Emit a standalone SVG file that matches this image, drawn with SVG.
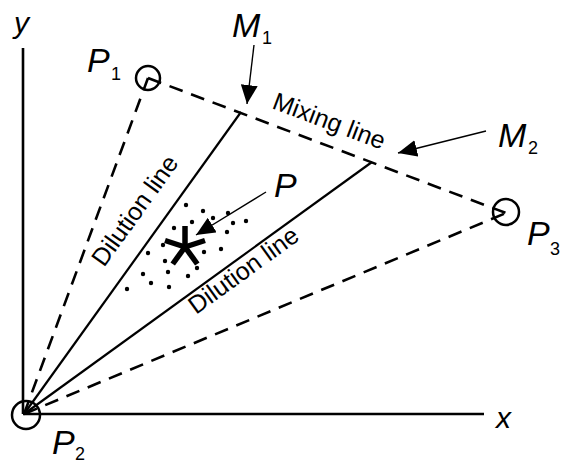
<svg xmlns="http://www.w3.org/2000/svg" width="561" height="464" viewBox="0 0 561 464">
<style>
.ax{stroke:#000;stroke-width:2.6;fill:none}
.sol{stroke:#000;stroke-width:2.2;fill:none}
.dash{stroke:#000;stroke-width:2.6;fill:none;stroke-dasharray:14 9}
.pt{stroke:#000;stroke-width:2.5;fill:none}
.arr{stroke:#000;stroke-width:1.4;fill:none;marker-end:url(#ah)}
.big{font-family:"Liberation Sans",Arial,sans-serif;font-style:italic;font-size:34px;fill:#000}
.sub{font-family:"Liberation Sans",Arial,sans-serif;font-size:18px;fill:#000}
.axl{font-family:"Liberation Sans",Arial,sans-serif;font-style:italic;font-size:30px;fill:#000}
.lab{font-family:"Liberation Sans",Arial,sans-serif;font-size:25px;fill:#000}
.dot{fill:#000}
</style>
<defs>
<marker id="ah" markerUnits="userSpaceOnUse" markerWidth="19" markerHeight="17" refX="19" refY="8.5" orient="auto" viewBox="0 0 19 17">
<path d="M0,0 L19,8.5 L0,17 Z" fill="#000"/>
</marker>
</defs>
<g id="axes">
<line class="ax" x1="23" y1="48" x2="23" y2="414"/>
<line class="ax" x1="23" y1="414" x2="484" y2="414"/>
<text class="axl" x="14" y="33">y</text>
<text class="axl" x="496" y="428">x</text>
</g>
<g id="connectors">
<line class="dash" x1="24" y1="414" x2="148" y2="78"/>
<line class="dash" x1="24" y1="414" x2="506" y2="213"/>
<line class="dash" x1="148" y1="78" x2="506" y2="213"/>
<line class="sol" x1="24" y1="414" x2="241" y2="112"/>
<line class="sol" x1="24" y1="414" x2="372" y2="162"/>
<line class="arr" x1="254" y1="45" x2="247" y2="104"/>
<line class="arr" x1="486" y1="131" x2="398" y2="153"/>
<line class="arr" x1="266" y1="192" x2="196" y2="235"/>
</g>
<g id="P1">
<circle class="pt" cx="148" cy="78" r="12"/>
<text class="big" x="87" y="72">P</text><text class="sub" x="111" y="80">1</text>
</g>
<g id="P2">
<circle class="pt" cx="26" cy="415" r="14"/>
<text class="big" x="52" y="454">P</text><text class="sub" x="75" y="460">2</text>
</g>
<g id="P3">
<circle class="pt" cx="506" cy="212" r="13"/>
<text class="big" x="527" y="245">P</text><text class="sub" x="550" y="255">3</text>
</g>
<g id="M1">
<text class="big" x="232" y="37">M</text><text class="sub" x="262" y="44">1</text>
</g>
<g id="M2">
<text class="big" x="498" y="147">M</text><text class="sub" x="528" y="154">2</text>
</g>
<g id="P">
<text class="big" x="274" y="197">P</text>
<g stroke="#000" stroke-width="5.5" stroke-linecap="butt">
<line x1="185" y1="247" x2="185" y2="226"/>
<line x1="185" y1="247" x2="205" y2="240.5"/>
<line x1="185" y1="247" x2="197.3" y2="264"/>
<line x1="185" y1="247" x2="172.7" y2="264"/>
<line x1="185" y1="247" x2="165" y2="240.5"/>
</g>
<g class="dot">
<circle cx="186" cy="205" r="2.2"/><circle cx="203" cy="211" r="2.2"/><circle cx="228" cy="213" r="2.2"/>
<circle cx="213" cy="218" r="2.2"/><circle cx="192" cy="222" r="2.2"/><circle cx="233" cy="223" r="2.2"/>
<circle cx="246" cy="221" r="2.2"/><circle cx="174" cy="228" r="2.2"/><circle cx="227" cy="232" r="2.2"/>
<circle cx="163" cy="245" r="2.2"/><circle cx="148" cy="253" r="2.2"/><circle cx="204" cy="252" r="2.2"/>
<circle cx="221" cy="249" r="2.2"/><circle cx="165" cy="261" r="2.2"/><circle cx="197" cy="268" r="2.2"/>
<circle cx="168" cy="272" r="2.2"/><circle cx="143" cy="274" r="2.2"/><circle cx="188" cy="276" r="2.2"/>
<circle cx="151" cy="283" r="2.2"/><circle cx="169" cy="287" r="2.2"/><circle cx="127" cy="289" r="2.2"/>
</g>
</g>
<g id="labels">
<text class="lab" transform="translate(271,108) rotate(20.7)">Mixing line</text>
<text class="lab" transform="translate(104,268) rotate(-54.3)">Dilution line</text>
<text class="lab" transform="translate(196,315) rotate(-35.9)">Dilution line</text>
</g>
</svg>
